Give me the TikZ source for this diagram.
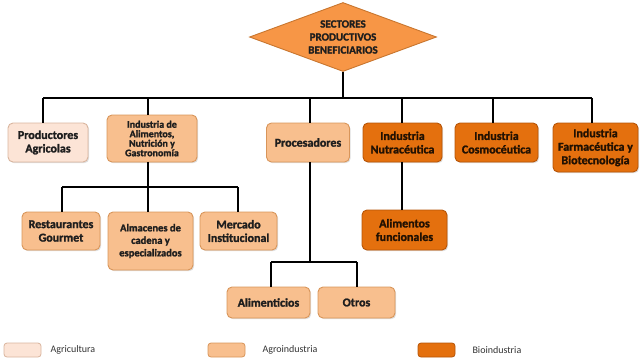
\documentclass[tikz,border=0pt]{standalone}
\usepackage{fontspec}
\setmainfont{Carlito}[BoldFont={Carlito Bold}, BoldFeatures={FakeBold=1.6}]
\usetikzlibrary{shapes.geometric,shadows}
\definecolor{agri}{HTML}{FCE4D6}
\definecolor{agriB}{HTML}{D9B59E}
\definecolor{agro}{HTML}{F8BF8E}
\definecolor{agroB}{HTML}{D8955A}
\definecolor{bio}{HTML}{E4700E}
\definecolor{bioB}{HTML}{B65508}
\definecolor{dia}{HTML}{F79646}
\definecolor{diaB}{HTML}{C8762F}
\definecolor{txt}{HTML}{1E1E1E}
\tikzset{
  base/.style={rounded corners=5pt, line width=0.9pt, align=center, font=\bfseries\fontsize{12}{13.5}\selectfont, text=txt, inner sep=1pt,
    drop shadow={opacity=0.25, shadow xshift=1.2pt, shadow yshift=-1.2pt}},
  agribox/.style={base, fill=agri, draw=agriB},
  agrobox/.style={base, fill=agro, draw=agroB},
  biobox/.style={base, fill=bio, draw=bioB, text=black!85!bio},
  conn/.style={line width=1.6pt, black},
  legbox/.style={rounded corners=3pt, line width=0.8pt, minimum width=37pt, minimum height=14pt, inner sep=0pt},
  legtxt/.style={anchor=west, font=\fontsize{10}{11}\selectfont, text=black!80}
}
\begin{document}
\begin{tikzpicture}[x=1pt,y=-1pt]
\useasboundingbox (0,0) rectangle (640,357);
% diamond
\node[diamond, aspect=2.7, minimum width=187pt, minimum height=69pt, inner sep=0pt, fill=dia, draw=diaB, line width=0.9pt, align=center, font=\bfseries\fontsize{11}{13}\selectfont, text=txt] (root) at (343,37) {SECTORES\\PRODUCTIVOS\\BENEFICIARIOS};
% top row
\node[agribox, minimum width=80pt, minimum height=39pt] (prod) at (48,142.5) {Productores\\Agricolas};
\node[agrobox, minimum width=90pt, minimum height=47pt, font=\bfseries\fontsize{10}{9.5}\selectfont] (ind) at (152,138.5) {Industria de\\Alimentos,\\Nutrición y\\Gastronomía};
\node[agrobox, minimum width=83pt, minimum height=39pt] (proc) at (308,142.5) {Procesadores};
\node[biobox, minimum width=79pt, minimum height=39pt] (nut) at (402.5,142.5) {Industria\\Nutracéutica};
\node[biobox, minimum width=83pt, minimum height=39pt] (cos) at (496.5,142.5) {Industria\\Cosmocéutica};
\node[biobox, minimum width=85pt, minimum height=49pt] (farm) at (595.5,147.5) {Industria\\Farmacéutica y\\Biotecnología};
% second row
\node[agrobox, minimum width=78pt, minimum height=38pt] (rest) at (61,231) {Restaurantes\\Gourmet};
\node[agrobox, minimum width=85pt, minimum height=58pt, font=\bfseries\fontsize{10.5}{12.5}\selectfont] (alm) at (150.5,241) {Almacenes de\\cadena y\\especializados};
\node[agrobox, minimum width=77pt, minimum height=38pt] (merc) at (238.5,231) {Mercado\\Institucional};
\node[biobox, minimum width=85pt, minimum height=40pt] (func) at (404.5,230) {Alimentos\\funcionales};
\node[agrobox, minimum width=83pt, minimum height=31pt] (alim) at (268.5,302.5) {Alimenticios};
\node[agrobox, minimum width=77pt, minimum height=31pt] (otros) at (356.5,302.5) {Otros};
% bus coordinates
\coordinate (t1) at (43,98);
\coordinate (t2) at (148,98);
\coordinate (t3) at (310,98);
\coordinate (t4) at (402,98);
\coordinate (t5) at (493,98);
\coordinate (t6) at (592,98);
\coordinate (s1) at (62,187);
\coordinate (s2) at (148,187);
\coordinate (s3) at (238,187);
\coordinate (p1) at (271,262);
\coordinate (p2) at (310,262);
\coordinate (p3) at (357,262);
% connectors
\draw[conn] (root.south) -- (root.south |- t1);
\draw[conn] (t1) -- (t6);
\draw[conn] (t1) -- (t1 |- prod.north);
\draw[conn] (t2) -- (t2 |- ind.north);
\draw[conn] (t3) -- (t3 |- proc.north);
\draw[conn] (t4) -- (t4 |- nut.north);
\draw[conn] (t5) -- (t5 |- cos.north);
\draw[conn] (t6) -- (t6 |- farm.north);
\draw[conn] (s2 |- ind.south) -- (s2);
\draw[conn] (s1) -- (s3);
\draw[conn] (s1) -- (s1 |- rest.north);
\draw[conn] (s2) -- (s2 |- alm.north);
\draw[conn] (s3) -- (s3 |- merc.north);
\draw[conn] (p2 |- proc.south) -- (p2);
\draw[conn] (p1) -- (p3);
\draw[conn] (p1) -- (p1 |- alim.north);
\draw[conn] (p3) -- (p3 |- otros.north);
\draw[conn] (nut.south -| t4) -- (t4 |- func.north);
% legend
\node[legbox, fill=agri, draw=agriB] (l1) at (22.5,350) {};
\node[legtxt] (l1t) at (47,350) {Agricultura};
\node[legbox, fill=agro, draw=agroB] (l2) at (226.5,350) {};
\node[legtxt] (l2t) at (259,350) {Agroindustria};
\node[legbox, fill=bio, draw=bioB] (l3) at (436.5,350) {};
\node[legtxt] (l3t) at (469,350) {Bioindustria};
\end{tikzpicture}
\end{document}
